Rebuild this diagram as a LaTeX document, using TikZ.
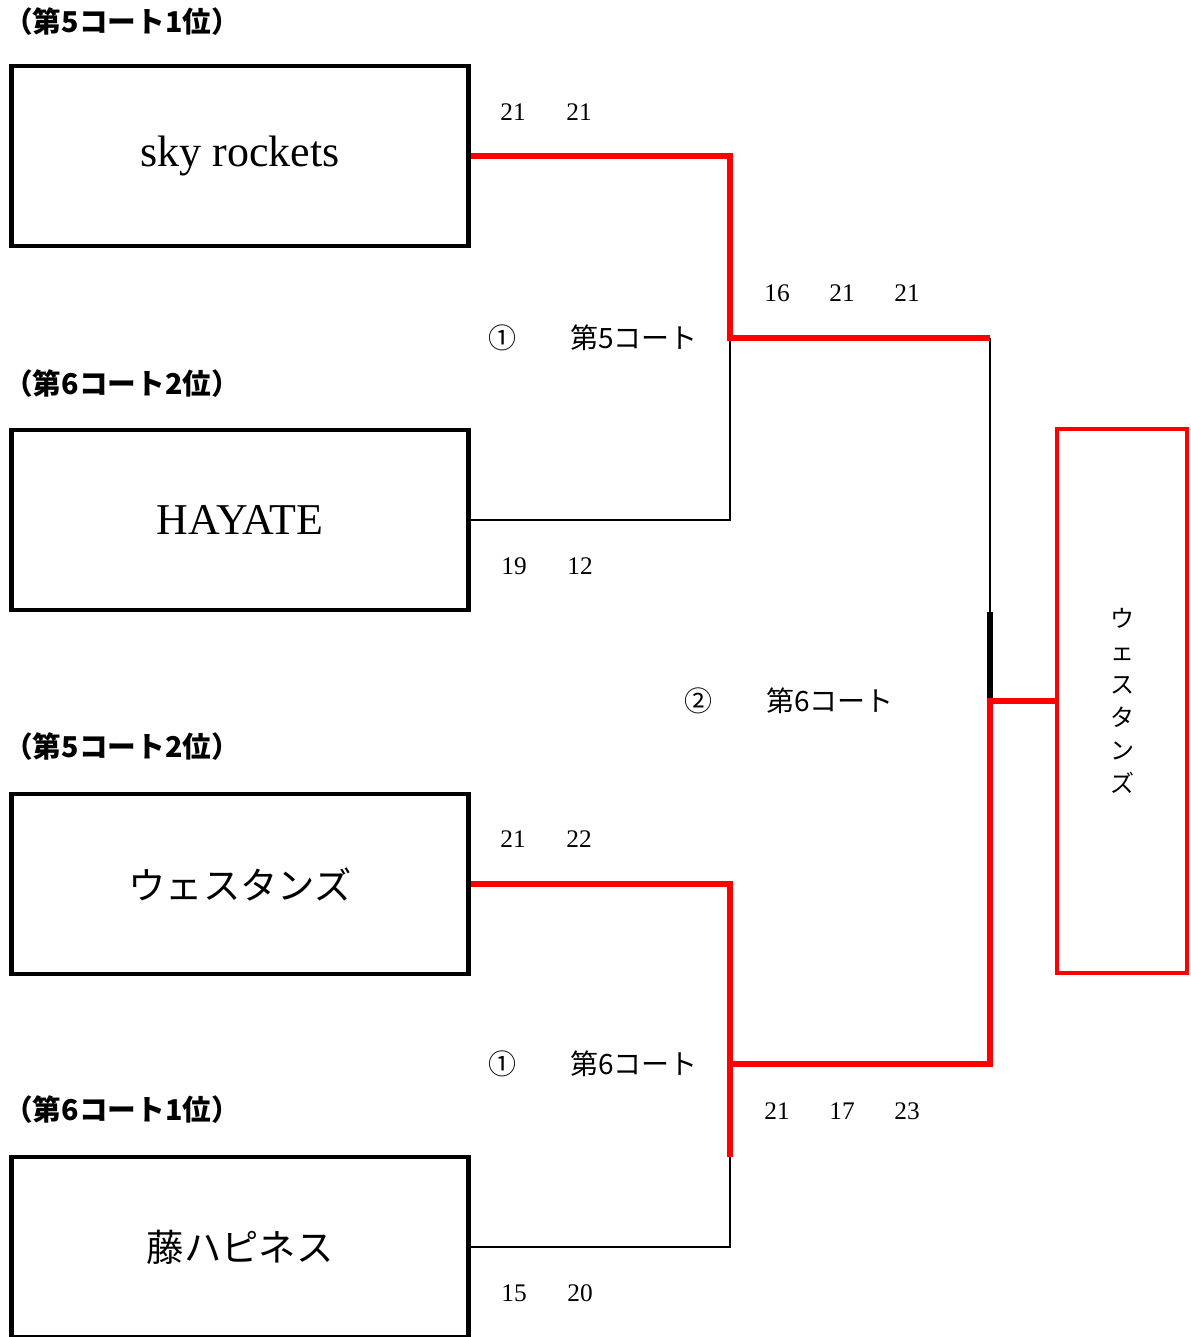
\documentclass[tikz,border=0pt]{standalone}
\usepackage{fontspec}
\setmainfont{Liberation Serif}
\newfontfamily\jp{Noto Sans CJK JP}
\usetikzlibrary{positioning}
\tikzstyle{team} = [draw, rectangle, line width=3.4pt,
    minimum width=342.75pt, minimum height=135pt, inner sep=0pt]
\tikzstyle{champ} = [draw=red, rectangle, line width=3.4pt,
    minimum width=97.5pt, minimum height=408pt, inner sep=0pt]
\tikzstyle{win} = [draw=red, line width=3.8pt]
\tikzstyle{lose} = [draw=black, line width=1.7pt]
\tikzstyle{seed} = [font=\jp\bfseries\fontsize{21.5}{21.5}\selectfont]
\tikzstyle{score} = [font=\fontsize{19}{19}\selectfont]
\tikzstyle{court} = [font=\jp\fontsize{21}{21}\selectfont]

\begin{document}
\begin{tikzpicture}[x=0.75pt, y=-0.75pt]
            \useasboundingbox (0,0) rectangle (1190,1337);

            \node[team, name=sky] at (240,156) {\fontsize{33}{33}\selectfont sky rockets};
            \node[team, name=hayate] at (240,520) {\fontsize{33}{33}\selectfont HAYATE};
            \node[team, name=western] at (240,884) {\jp\fontsize{28}{28}\selectfont ウェスタンズ};
            \node[team, name=fuji] at (240,1247) {\jp\fontsize{28}{28}\selectfont 藤ハピネス};
            \node[champ, name=champ] at (1122,701) {};
            \node[align=center, font=\jp\fontsize{18}{24.75}\selectfont, name=champname]
                at (champ.center) {ウ\\ェ\\ス\\タ\\ン\\ズ};

            \node[seed, name=seed1] at (122,22) {（第5コート1位）};
            \node[seed, name=seed2] at (122,384) {（第6コート2位）};
            \node[seed, name=seed3] at (122,747) {（第5コート2位）};
            \node[seed, name=seed4] at (122,1110) {（第6コート1位）};

            \coordinate (semi_a) at (730,338);
            \coordinate (semi_b) at (730,1064);
            \coordinate (bend_b) at (730,1157);
            \coordinate (final_top) at (990,338);
            \coordinate (final_mark) at (990,612);
            \coordinate (final_mid) at (990,701);
            \coordinate (final_bot) at (990,1064);

            \draw[lose] (hayate.east) -| (semi_a);
            \draw[lose] (fuji.east) -| (bend_b);
            \draw[lose] (final_top) -- (final_mark);
            \draw[black, line width=4pt] (final_mark) -- (final_mid);
            \draw[win] (sky.east) -| (semi_a) -- (final_top);
            \draw[win] (western.east) -| (bend_b);
            \draw[win] (semi_b) -- (final_bot) -- (final_mid) -- (champ.west);

            \node[court, name=match1] at (502,338) {①};
            \node[court, name=court1] at (634,338) {第5コート};
            \node[court, name=match2] at (698,701) {②};
            \node[court, name=court2] at (830,701) {第6コート};
            \node[court, name=match3] at (502,1064) {①};
            \node[court, name=court3] at (634,1064) {第6コート};

            \node[score, name=sky1] at (513,112) {21};
            \node[score, name=sky2] at (579,112) {21};
            \node[score, name=hay1] at (514,566) {19};
            \node[score, name=hay2] at (580,566) {12};
            \node[score, name=wes1] at (513,839) {21};
            \node[score, name=wes2] at (579,839) {22};
            \node[score, name=fuj1] at (514,1293) {15};
            \node[score, name=fuj2] at (580,1293) {20};
            \node[score, name=fa1] at (777,293) {16};
            \node[score, name=fa2] at (842,293) {21};
            \node[score, name=fa3] at (907,293) {21};
            \node[score, name=fb1] at (777,1111) {21};
            \node[score, name=fb2] at (842,1111) {17};
            \node[score, name=fb3] at (907,1111) {23};
        \end{tikzpicture}
\end{document}
